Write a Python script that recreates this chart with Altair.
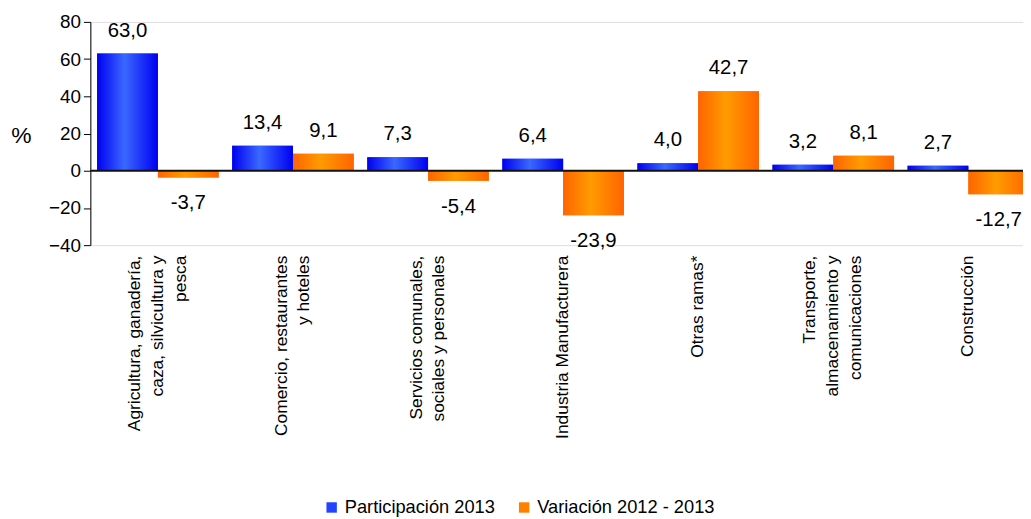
import altair as alt
import pandas as pd

categories = [
    "Agricultura, ganadería,|caza, silvicultura y|pesca",
    "Comercio, restaurantes|y hoteles",
    "Servicios comunales,|sociales y personales",
    "Industria Manufacturera",
    "Otras ramas*",
    "Transporte,|almacenamiento y|comunicaciones",
    "Construcción",
]
series = ["Participación 2013", "Variación 2012 - 2013"]
participacion = [63.0, 13.4, 7.3, 6.4, 4.0, 3.2, 2.7]
variacion = [-3.7, 9.1, -5.4, -23.9, 42.7, 8.1, -12.7]
y_ticks = [-40, -20, 0, 20, 40, 60, 80]

rows = []
for c, p, v in zip(categories, participacion, variacion):
    rows.append({"cat": c, "serie": series[0], "valor": p})
    rows.append({"cat": c, "serie": series[1], "valor": v})
df = pd.DataFrame(rows)

FONT = "Liberation Sans"
blue_solid = "#2244ff"
orange_solid = "#ff8000"

blue_grad = alt.Gradient(
    gradient="linear", x1=0, x2=1, y1=0, y2=0,
    stops=[alt.GradientStop(color="#0000f0", offset=0),
           alt.GradientStop(color="#3a68ff", offset=0.45),
           alt.GradientStop(color="#0000f0", offset=1)])
orange_grad = alt.Gradient(
    gradient="linear", x1=0, x2=1, y1=0, y2=0,
    stops=[alt.GradientStop(color="#ff6400", offset=0),
           alt.GradientStop(color="#ff9c00", offset=0.45),
           alt.GradientStop(color="#ff6400", offset=1)])

LINE_H = 23
x_enc = alt.X(
    "cat:N", sort=categories,
    scale=alt.Scale(range=[0, 953], paddingInner=0.1, paddingOuter=0.05),
    axis=alt.Axis(title=None, domain=False, ticks=False, labelAngle=270,
                  labelAlign="right", labelBaseline="middle",
                  labelPadding=10, labelFont=FONT, labelFontSize=17.5,
                  labelColor="black", labelLineHeight=LINE_H, labelLimit=400,
                  labelOffset={"expr": f"-(length(split(datum.label, '|')) - 1) * {LINE_H / 2}"},
                  labelExpr="split(datum.label, '|')"))
xo_enc = alt.XOffset("serie:N", sort=series,
                     scale=alt.Scale(domain=series, paddingInner=0, paddingOuter=0))
y_enc = alt.Y(
    "valor:Q",
    scale=alt.Scale(domain=[-40, 80], nice=False, zero=False),
    axis=alt.Axis(values=y_ticks, grid=False, domainColor="black",
                  tickColor="black", tickSize=7, labelPadding=3,
                  labelOverlap=False,
                  labelFont=FONT, labelFontSize=19, labelColor="black",
                  title="%", titleAngle=0, titleX=-70, titleY=115,
                  titleFont=FONT, titleFontSize=23, titleFontWeight="normal",
                  titleAlign="center", titleBaseline="middle",
                  titleColor="black"))

base = alt.Chart(df)

bars = base.mark_bar().encode(
    x=x_enc, xOffset=xo_enc, y=y_enc,
    color=alt.Color("serie:N", sort=series,
                    scale=alt.Scale(domain=series, range=[blue_solid, orange_solid]),
                    legend=alt.Legend(title=None, orient="none", direction="horizontal",
                                      legendX=234, legendY=480,
                                      symbolType="square", symbolSize=110,
                                      symbolStrokeWidth=0, labelLimit=400,
                                      labelFont=FONT, labelFontSize=18.4,
                                      labelColor="black", columnPadding=20,
                                      labelOffset=4)))

bars_blue = base.transform_filter(alt.datum.serie == series[0]).mark_bar(
    color=blue_grad).encode(x=x_enc, xOffset=xo_enc, y=y_enc)
bars_orange = base.transform_filter(alt.datum.serie == series[1]).mark_bar(
    color=orange_grad).encode(x=x_enc, xOffset=xo_enc, y=y_enc)

zero = alt.Chart(pd.DataFrame({"valor": [0]})).mark_rule(
    color="#111111", strokeWidth=2).encode(
    y=y_enc, x=alt.value(0), x2=alt.value(940))

lab = base.transform_calculate(
    txt="(datum.valor < 0 ? '-' : '') + replace(format(abs(datum.valor), '.1f'), '.', ',')")
text_pos = lab.transform_filter(alt.datum.valor >= 0).mark_text(
    font=FONT, fontSize=20.5, color="black", baseline="middle", dy=-23).encode(
    x=x_enc, xOffset=xo_enc, y=y_enc, text="txt:N")
text_neg = lab.transform_filter(alt.datum.valor < 0).mark_text(
    font=FONT, fontSize=20.5, color="black", baseline="middle", dy=26).encode(
    x=x_enc, xOffset=xo_enc, y=y_enc, text="txt:N")

chart = alt.layer(bars, bars_blue, bars_orange, zero, text_pos, text_neg).properties(
    width=940, height=225,
    autosize=alt.AutoSizeParams(type="none"),
    padding={"left": 83, "top": 12, "right": 0, "bottom": 274},
).configure_view(stroke=None).configure(background="white")

chart.save("out.html", embed_options={"renderer": "svg", "actions": False})
